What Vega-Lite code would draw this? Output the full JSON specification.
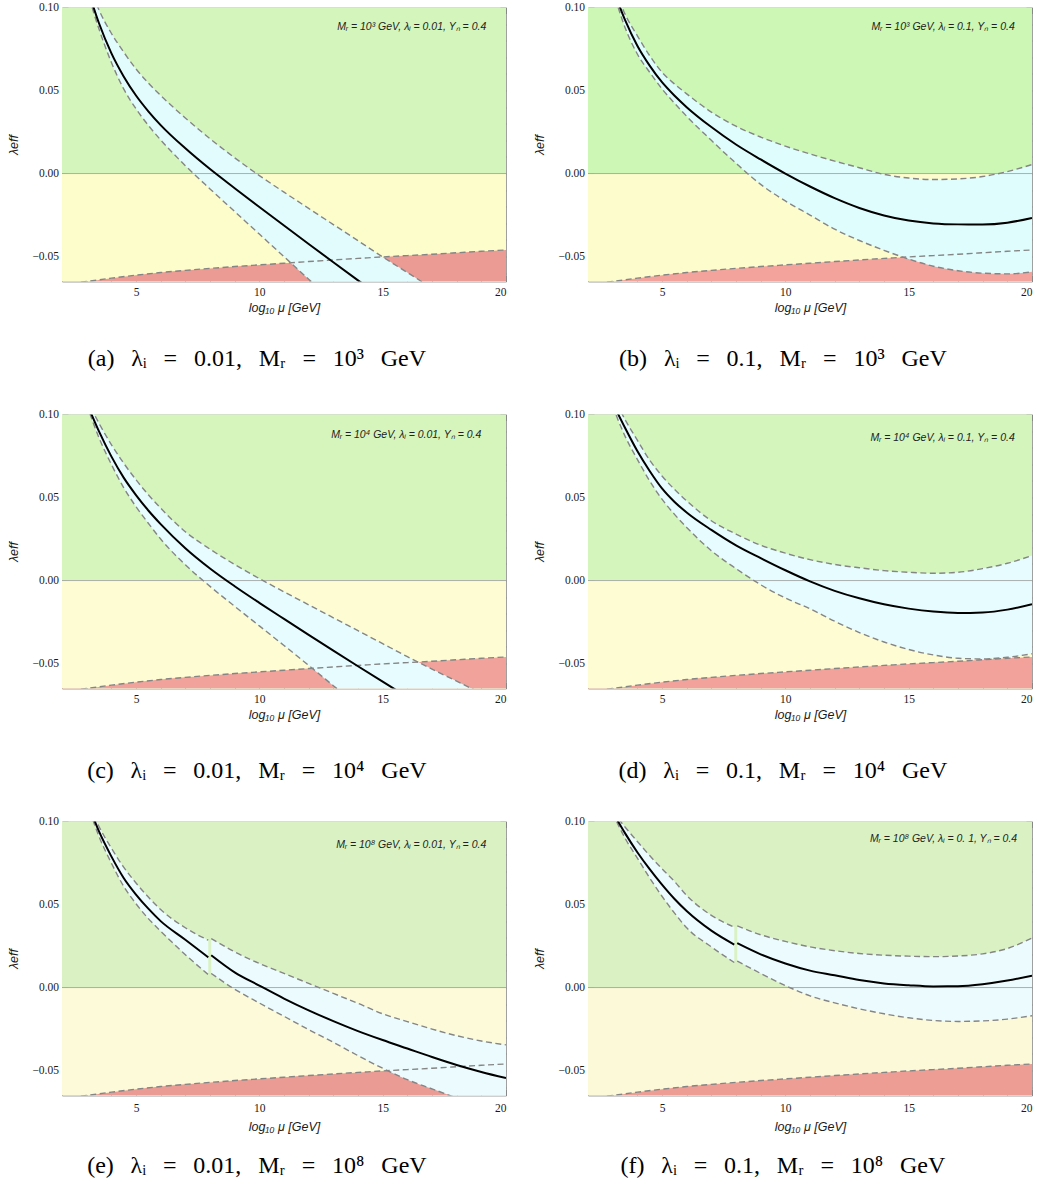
{
"$schema":"https://vega.github.io/schema/vega-lite/v6.json",
"background":"white",
"padding":{"left":6,"top":0.5,"right":4,"bottom":4},
"columns":2,
"spacing":{"row":133,"column":82},
"bounds":"flush",
"config":{"view":{"stroke":"#a0a0a0","strokeWidth":1},"axis":{"grid":false,"domain":false,"tickColor":"#808080","tickWidth":0.8,"labelFont":"Liberation Serif","labelFontSize":11.5,"labelColor":"#1a1a1a","titleFont":"Liberation Sans","titleFontStyle":"italic","titleFontWeight":"normal","titleFontSize":12.5,"titleColor":"#1a1a1a"}},
"datasets":{
"bound":[{"x":2,"b":-0.0668},{"x":3,"b":-0.065},{"x":4,"b":-0.063},{"x":5,"b":-0.0612},{"x":6,"b":-0.0596},{"x":7,"b":-0.0583},{"x":8,"b":-0.0571},{"x":9,"b":-0.056},{"x":10,"b":-0.055},{"x":11,"b":-0.054},{"x":12,"b":-0.053},{"x":13,"b":-0.052},{"x":14,"b":-0.0511},{"x":15,"b":-0.0502},{"x":16,"b":-0.0494},{"x":17,"b":-0.0486},{"x":18,"b":-0.0477},{"x":19,"b":-0.0468},{"x":20,"b":-0.046}],
"curves":[
{"p":"a","x":3,"lo":0.111,"mid":0.113,"hi":0.118},
{"p":"a","x":3.5,"lo":0.087,"mid":0.0905,"hi":0.0985},
{"p":"a","x":4,"lo":0.067,"mid":0.0725,"hi":0.0845},
{"p":"a","x":4.5,"lo":0.051,"mid":0.0585,"hi":0.0732},
{"p":"a","x":5,"lo":0.039,"mid":0.047,"hi":0.063},
{"p":"a","x":5.5,"lo":0.029,"mid":0.0375,"hi":0.0545},
{"p":"a","x":6,"lo":0.02025,"mid":0.0292,"hi":0.047},
{"p":"a","x":7,"lo":0.00475,"mid":0.0152,"hi":0.0335},
{"p":"a","x":8,"lo":-0.00925,"mid":0.0027,"hi":0.021},
{"p":"a","x":9,"lo":-0.02285,"mid":-0.0088,"hi":0.0095},
{"p":"a","x":10,"lo":-0.03645,"mid":-0.0201,"hi":-0.0012},
{"p":"a","x":11,"lo":-0.05005,"mid":-0.0313,"hi":-0.0112},
{"p":"a","x":12,"lo":-0.06365,"mid":-0.0424,"hi":-0.021},
{"p":"a","x":13,"lo":-0.0773,"mid":-0.0534,"hi":-0.0307},
{"p":"a","x":14,"lo":-0.0909,"mid":-0.0643,"hi":-0.0404},
{"p":"a","x":15,"lo":-0.1045,"mid":-0.075,"hi":-0.0502},
{"p":"a","x":16,"lo":-0.118,"mid":-0.0857,"hi":-0.0596},
{"p":"a","x":17,"lo":-0.1316,"mid":-0.0964,"hi":-0.069},
{"p":"b","x":3,"lo":0.111,"mid":0.112,"hi":0.115},
{"p":"b","x":3.5,"lo":0.088,"mid":0.0925,"hi":0.096},
{"p":"b","x":4,"lo":0.072,"mid":0.077,"hi":0.083},
{"p":"b","x":4.5,"lo":0.061,"mid":0.065,"hi":0.071},
{"p":"b","x":5,"lo":0.051,"mid":0.055,"hi":0.061},
{"p":"b","x":5.5,"lo":0.0425,"mid":0.047,"hi":0.054},
{"p":"b","x":6,"lo":0.0345,"mid":0.040,"hi":0.048},
{"p":"b","x":7,"lo":0.020,"mid":0.028,"hi":0.037},
{"p":"b","x":8,"lo":0.0062,"mid":0.0175,"hi":0.0285},
{"p":"b","x":9,"lo":-0.0065,"mid":0.0085,"hi":0.022},
{"p":"b","x":10,"lo":-0.0165,"mid":0.0,"hi":0.0165},
{"p":"b","x":11,"lo":-0.025,"mid":-0.0078,"hi":0.0118},
{"p":"b","x":12,"lo":-0.0335,"mid":-0.0148,"hi":0.0075},
{"p":"b","x":13,"lo":-0.0403,"mid":-0.0207,"hi":0.0035},
{"p":"b","x":14,"lo":-0.0462,"mid":-0.0252,"hi":-0.0005},
{"p":"b","x":15,"lo":-0.0515,"mid":-0.0283,"hi":-0.0027},
{"p":"b","x":16,"lo":-0.0558,"mid":-0.030,"hi":-0.0036},
{"p":"b","x":17,"lo":-0.0585,"mid":-0.0306,"hi":-0.0032},
{"p":"b","x":18,"lo":-0.060,"mid":-0.0307,"hi":-0.0018},
{"p":"b","x":19,"lo":-0.0604,"mid":-0.0296,"hi":0.0012},
{"p":"b","x":20,"lo":-0.0592,"mid":-0.0267,"hi":0.0054},
{"p":"c","x":3,"lo":0.106,"mid":0.107,"hi":0.1093},
{"p":"c","x":3.5,"lo":0.086,"mid":0.0898,"hi":0.0947},
{"p":"c","x":4,"lo":0.07,"mid":0.0748,"hi":0.0819},
{"p":"c","x":4.5,"lo":0.056,"mid":0.062,"hi":0.0707},
{"p":"c","x":5,"lo":0.0445,"mid":0.0515,"hi":0.0607},
{"p":"c","x":5.5,"lo":0.0345,"mid":0.0422,"hi":0.0517},
{"p":"c","x":6,"lo":0.025,"mid":0.034,"hi":0.0436},
{"p":"c","x":7,"lo":0.0095,"mid":0.0195,"hi":0.0294},
{"p":"c","x":8,"lo":-0.0035,"mid":0.0073,"hi":0.0189},
{"p":"c","x":9,"lo":-0.0155,"mid":-0.0034,"hi":0.0097},
{"p":"c","x":10,"lo":-0.0273,"mid":-0.0134,"hi":0.0012},
{"p":"c","x":11,"lo":-0.0391,"mid":-0.0231,"hi":-0.0068},
{"p":"c","x":12,"lo":-0.0511,"mid":-0.0327,"hi":-0.0146},
{"p":"c","x":13,"lo":-0.0633,"mid":-0.0422,"hi":-0.0224},
{"p":"c","x":14,"lo":-0.0755,"mid":-0.0516,"hi":-0.0302},
{"p":"c","x":15,"lo":-0.0877,"mid":-0.0609,"hi":-0.038},
{"p":"c","x":16,"lo":-0.1,"mid":-0.0701,"hi":-0.0458},
{"p":"c","x":17,"lo":-0.112,"mid":-0.0792,"hi":-0.0533},
{"p":"c","x":18,"lo":-0.124,"mid":-0.0882,"hi":-0.0606},
{"p":"c","x":19,"lo":-0.136,"mid":-0.0972,"hi":-0.0679},
{"p":"d","x":3,"lo":0.105,"mid":0.107,"hi":0.112},
{"p":"d","x":3.5,"lo":0.087,"mid":0.092,"hi":0.097},
{"p":"d","x":4,"lo":0.073,"mid":0.078,"hi":0.0845},
{"p":"d","x":4.5,"lo":0.060,"mid":0.066,"hi":0.0725},
{"p":"d","x":5,"lo":0.049,"mid":0.0555,"hi":0.063},
{"p":"d","x":5.5,"lo":0.040,"mid":0.0475,"hi":0.055},
{"p":"d","x":6,"lo":0.032,"mid":0.041,"hi":0.048},
{"p":"d","x":7,"lo":0.018,"mid":0.0305,"hi":0.036},
{"p":"d","x":8,"lo":0.0072,"mid":0.0212,"hi":0.028},
{"p":"d","x":9,"lo":-0.0025,"mid":0.0135,"hi":0.0213},
{"p":"d","x":10,"lo":-0.0105,"mid":0.0062,"hi":0.0165},
{"p":"d","x":11,"lo":-0.017,"mid":-0.0005,"hi":0.0126},
{"p":"d","x":12,"lo":-0.0245,"mid":-0.0062,"hi":0.0097},
{"p":"d","x":13,"lo":-0.0313,"mid":-0.0107,"hi":0.0077},
{"p":"d","x":14,"lo":-0.037,"mid":-0.0143,"hi":0.006},
{"p":"d","x":15,"lo":-0.0415,"mid":-0.0169,"hi":0.005},
{"p":"d","x":16,"lo":-0.0448,"mid":-0.0187,"hi":0.0044},
{"p":"d","x":17,"lo":-0.0468,"mid":-0.0195,"hi":0.005},
{"p":"d","x":18,"lo":-0.0472,"mid":-0.0192,"hi":0.0072},
{"p":"d","x":19,"lo":-0.0462,"mid":-0.0175,"hi":0.0104},
{"p":"d","x":20,"lo":-0.0441,"mid":-0.0142,"hi":0.0151},
{"p":"e","s":1,"x":3,"lo":0.112,"mid":0.113,"hi":0.114},
{"p":"e","s":1,"x":3.5,"lo":0.091,"mid":0.094,"hi":0.097},
{"p":"e","s":1,"x":4,"lo":0.075,"mid":0.079,"hi":0.084},
{"p":"e","s":1,"x":4.5,"lo":0.061,"mid":0.066,"hi":0.0725},
{"p":"e","s":1,"x":5,"lo":0.0505,"mid":0.056,"hi":0.063},
{"p":"e","s":1,"x":5.5,"lo":0.0415,"mid":0.0475,"hi":0.0545},
{"p":"e","s":1,"x":6,"lo":0.034,"mid":0.040,"hi":0.047},
{"p":"e","s":1,"x":7,"lo":0.0198,"mid":0.0288,"hi":0.036},
{"p":"e","s":1,"x":7.93,"lo":0.0078,"mid":0.0182,"hi":0.0285},
{"p":"e","s":2,"x":8.05,"lo":0.0085,"mid":0.0195,"hi":0.0295},
{"p":"e","s":2,"x":9,"lo":-0.001,"mid":0.0092,"hi":0.0215},
{"p":"e","s":2,"x":10,"lo":-0.0093,"mid":0.0012,"hi":0.0145},
{"p":"e","s":2,"x":11,"lo":-0.0173,"mid":-0.0066,"hi":0.0085},
{"p":"e","s":2,"x":12,"lo":-0.0253,"mid":-0.0137,"hi":0.0025},
{"p":"e","s":2,"x":13,"lo":-0.033,"mid":-0.0202,"hi":-0.0035},
{"p":"e","s":2,"x":14,"lo":-0.041,"mid":-0.0262,"hi":-0.0095},
{"p":"e","s":2,"x":15,"lo":-0.0486,"mid":-0.0316,"hi":-0.0158},
{"p":"e","s":2,"x":16,"lo":-0.0555,"mid":-0.0367,"hi":-0.0205},
{"p":"e","s":2,"x":17,"lo":-0.061,"mid":-0.0418,"hi":-0.025},
{"p":"e","s":2,"x":18,"lo":-0.0665,"mid":-0.0466,"hi":-0.029},
{"p":"e","s":2,"x":19,"lo":-0.072,"mid":-0.0508,"hi":-0.0322},
{"p":"e","s":2,"x":20,"lo":-0.0775,"mid":-0.0545,"hi":-0.0345},
{"p":"f","s":1,"x":3,"lo":0.105,"mid":0.1057,"hi":0.106},
{"p":"f","s":1,"x":3.5,"lo":0.09,"mid":0.093,"hi":0.0967},
{"p":"f","s":1,"x":4,"lo":0.078,"mid":0.0815,"hi":0.088},
{"p":"f","s":1,"x":4.5,"lo":0.066,"mid":0.0713,"hi":0.0795},
{"p":"f","s":1,"x":5,"lo":0.055,"mid":0.062,"hi":0.0715},
{"p":"f","s":1,"x":5.5,"lo":0.045,"mid":0.0535,"hi":0.064},
{"p":"f","s":1,"x":6,"lo":0.036,"mid":0.0461,"hi":0.0555},
{"p":"f","s":1,"x":7,"lo":0.0245,"mid":0.0343,"hi":0.0435},
{"p":"f","s":1,"x":7.93,"lo":0.0151,"mid":0.0259,"hi":0.0364},
{"p":"f","s":2,"x":8.05,"lo":0.016,"mid":0.0267,"hi":0.0372},
{"p":"f","s":2,"x":9,"lo":0.0085,"mid":0.020,"hi":0.0318},
{"p":"f","s":2,"x":10,"lo":0.0012,"mid":0.0145,"hi":0.0278},
{"p":"f","s":2,"x":11,"lo":-0.005,"mid":0.0102,"hi":0.0245},
{"p":"f","s":2,"x":12,"lo":-0.0092,"mid":0.0074,"hi":0.0222},
{"p":"f","s":2,"x":13,"lo":-0.0128,"mid":0.0045,"hi":0.0205},
{"p":"f","s":2,"x":14,"lo":-0.0158,"mid":0.0025,"hi":0.0195},
{"p":"f","s":2,"x":15,"lo":-0.0182,"mid":0.0014,"hi":0.0189},
{"p":"f","s":2,"x":16,"lo":-0.0198,"mid":0.0007,"hi":0.0186},
{"p":"f","s":2,"x":17,"lo":-0.0204,"mid":0.0008,"hi":0.019},
{"p":"f","s":2,"x":18,"lo":-0.0201,"mid":0.002,"hi":0.0203},
{"p":"f","s":2,"x":19,"lo":-0.019,"mid":0.0042,"hi":0.0235},
{"p":"f","s":2,"x":20,"lo":-0.017,"mid":0.0072,"hi":0.0298}
]},
"concat":[
{"width":444,"height":274,
"title":{"text":"(a)\u2002\u2009λᵢ\u2002\u2009=\u2002\u20090.01,\u2002\u2009Mᵣ\u2002\u2009=\u2002\u200910³\u2002\u2009GeV","orient":"bottom","offset":33,"font":"Liberation Serif","fontSize":24,"fontWeight":"normal","anchor":"middle","frame":"bounds","color":"#000"},
"resolve":{"axis":{"x":"independent","y":"independent"}},
"layer":[
{"data":{"values":[{}]},"mark":{"type":"rect","color":"#fdfdcb"},"encoding":{"x":{"datum":2,"type":"quantitative","scale":{"domain":[2,20],"nice":false,"zero":false},"axis":{"orient":"bottom","values":[5,10,15,20],"tickSize":-6,"labelPadding":10.5,"title":"log₁₀ μ  [GeV]","titlePadding":4}},"x2":{"datum":20},"y":{"datum":-0.065,"type":"quantitative","scale":{"domain":[-0.065,0.1],"nice":false,"zero":false},"axis":{"orient":"left","values":[-0.05,0,0.05,0.1],"format":".2f","tickSize":-6,"labelPadding":9.5,"title":"λeff","titlePadding":11.5}},"y2":{"datum":0}}},
{"data":{"name":"bound"},"mark":{"type":"area","color":"#eb9b94","clip":true,"interpolate":"monotone"},"encoding":{"x":{"field":"x","type":"quantitative","axis":{"orient":"bottom","values":[2,3,4,6,7,8,9,11,12,13,14,16,17,18,19],"tickSize":-3,"labels":false,"title":null}},"y":{"field":"b","type":"quantitative","axis":{"orient":"left","values":[-0.06,-0.04,-0.03,-0.02,-0.01,0.01,0.02,0.03,0.04,0.06,0.07,0.08,0.09],"tickSize":-3,"labels":false,"title":null}},"y2":{"datum":-0.065}}},
{"data":{"values":[{}]},"mark":{"type":"rect","color":"#d4f5bc"},"encoding":{"x":{"datum":2,"type":"quantitative","axis":{"orient":"top","values":[2,3,4,6,7,8,9,11,12,13,14,16,17,18,19],"tickSize":-3,"labels":false,"title":null}},"x2":{"datum":20},"y":{"datum":0,"type":"quantitative","axis":{"orient":"right","values":[-0.06,-0.04,-0.03,-0.02,-0.01,0.01,0.02,0.03,0.04,0.06,0.07,0.08,0.09],"tickSize":-3,"labels":false,"title":null}},"y2":{"datum":0.1}}},
{"data":{"name":"curves"},"transform":[{"filter":"datum.p==='a'"}],"mark":{"type":"area","color":"#e2fcfd","clip":true,"interpolate":"monotone"},"encoding":{"x":{"field":"x","type":"quantitative","axis":{"orient":"top","values":[5,10,15,20],"tickSize":-6,"labels":false,"title":null}},"y":{"field":"lo","type":"quantitative","axis":{"orient":"right","values":[-0.05,0,0.05,0.1],"tickSize":-6,"labels":false,"title":null}},"y2":{"field":"hi"},"detail":{"field":"s"}}},
{"data":{"values":[{}]},"mark":{"type":"rule","color":"#9a9a9a","strokeWidth":0.8},"encoding":{"y":{"datum":0,"type":"quantitative","axis":null}}},
{"data":{"name":"bound"},"mark":{"type":"line","color":"#858585","strokeWidth":1.4,"strokeDash":[6,3.5],"clip":true,"interpolate":"monotone"},"encoding":{"x":{"field":"x","type":"quantitative","axis":null},"y":{"field":"b","type":"quantitative","axis":null}}},
{"data":{"name":"curves"},"transform":[{"filter":"datum.p==='a'"}],"mark":{"type":"line","color":"#858585","strokeWidth":1.4,"strokeDash":[6,3.5],"clip":true,"interpolate":"monotone"},"encoding":{"x":{"field":"x","type":"quantitative","axis":null},"y":{"field":"lo","type":"quantitative","axis":null},"detail":{"field":"s"}}},
{"data":{"name":"curves"},"transform":[{"filter":"datum.p==='a'"}],"mark":{"type":"line","color":"#858585","strokeWidth":1.4,"strokeDash":[6,3.5],"clip":true,"interpolate":"monotone"},"encoding":{"x":{"field":"x","type":"quantitative","axis":null},"y":{"field":"hi","type":"quantitative","axis":null},"detail":{"field":"s"}}},
{"data":{"name":"curves"},"transform":[{"filter":"datum.p==='a'"}],"mark":{"type":"line","color":"#000000","strokeWidth":2,"clip":true,"interpolate":"monotone"},"encoding":{"x":{"field":"x","type":"quantitative","axis":null},"y":{"field":"mid","type":"quantitative","axis":null},"detail":{"field":"s"}}},
{"data":{"values":[{}]},"mark":{"type":"text","text":"Mᵣ = 10³ GeV,  λᵢ = 0.01,  Yₙ = 0.4","align":"right","baseline":"middle","font":"Liberation Sans","fontStyle":"italic","fontSize":10.5,"color":"#222"},"encoding":{"x":{"datum":19.2,"type":"quantitative","axis":null},"y":{"datum":0.0885,"type":"quantitative","axis":null}}}
]},
{"width":444,"height":274,
"title":{"text":"(b)\u2002\u2009λᵢ\u2002\u2009=\u2002\u20090.1,\u2002\u2009Mᵣ\u2002\u2009=\u2002\u200910³\u2002\u2009GeV","orient":"bottom","offset":33,"font":"Liberation Serif","fontSize":24,"fontWeight":"normal","anchor":"middle","frame":"bounds","color":"#000"},
"resolve":{"axis":{"x":"independent","y":"independent"}},
"layer":[
{"data":{"values":[{}]},"mark":{"type":"rect","color":"#fdfccc"},"encoding":{"x":{"datum":2,"type":"quantitative","scale":{"domain":[2,20],"nice":false,"zero":false},"axis":{"orient":"bottom","values":[5,10,15,20],"tickSize":-6,"labelPadding":10.5,"title":"log₁₀ μ  [GeV]","titlePadding":4}},"x2":{"datum":20},"y":{"datum":-0.065,"type":"quantitative","scale":{"domain":[-0.065,0.1],"nice":false,"zero":false},"axis":{"orient":"left","values":[-0.05,0,0.05,0.1],"format":".2f","tickSize":-6,"labelPadding":9.5,"title":"λeff","titlePadding":11.5}},"y2":{"datum":0}}},
{"data":{"name":"bound"},"mark":{"type":"area","color":"#f4a39c","clip":true,"interpolate":"monotone"},"encoding":{"x":{"field":"x","type":"quantitative","axis":{"orient":"bottom","values":[2,3,4,6,7,8,9,11,12,13,14,16,17,18,19],"tickSize":-3,"labels":false,"title":null}},"y":{"field":"b","type":"quantitative","axis":{"orient":"left","values":[-0.06,-0.04,-0.03,-0.02,-0.01,0.01,0.02,0.03,0.04,0.06,0.07,0.08,0.09],"tickSize":-3,"labels":false,"title":null}},"y2":{"datum":-0.065}}},
{"data":{"values":[{}]},"mark":{"type":"rect","color":"#ccf7b4"},"encoding":{"x":{"datum":2,"type":"quantitative","axis":{"orient":"top","values":[2,3,4,6,7,8,9,11,12,13,14,16,17,18,19],"tickSize":-3,"labels":false,"title":null}},"x2":{"datum":20},"y":{"datum":0,"type":"quantitative","axis":{"orient":"right","values":[-0.06,-0.04,-0.03,-0.02,-0.01,0.01,0.02,0.03,0.04,0.06,0.07,0.08,0.09],"tickSize":-3,"labels":false,"title":null}},"y2":{"datum":0.1}}},
{"data":{"name":"curves"},"transform":[{"filter":"datum.p==='b'"}],"mark":{"type":"area","color":"#e0fdfe","clip":true,"interpolate":"monotone"},"encoding":{"x":{"field":"x","type":"quantitative","axis":{"orient":"top","values":[5,10,15,20],"tickSize":-6,"labels":false,"title":null}},"y":{"field":"lo","type":"quantitative","axis":{"orient":"right","values":[-0.05,0,0.05,0.1],"tickSize":-6,"labels":false,"title":null}},"y2":{"field":"hi"},"detail":{"field":"s"}}},
{"data":{"values":[{}]},"mark":{"type":"rule","color":"#9a9a9a","strokeWidth":0.8},"encoding":{"y":{"datum":0,"type":"quantitative","axis":null}}},
{"data":{"name":"bound"},"mark":{"type":"line","color":"#858585","strokeWidth":1.4,"strokeDash":[6,3.5],"clip":true,"interpolate":"monotone"},"encoding":{"x":{"field":"x","type":"quantitative","axis":null},"y":{"field":"b","type":"quantitative","axis":null}}},
{"data":{"name":"curves"},"transform":[{"filter":"datum.p==='b'"}],"mark":{"type":"line","color":"#858585","strokeWidth":1.4,"strokeDash":[6,3.5],"clip":true,"interpolate":"monotone"},"encoding":{"x":{"field":"x","type":"quantitative","axis":null},"y":{"field":"lo","type":"quantitative","axis":null},"detail":{"field":"s"}}},
{"data":{"name":"curves"},"transform":[{"filter":"datum.p==='b'"}],"mark":{"type":"line","color":"#858585","strokeWidth":1.4,"strokeDash":[6,3.5],"clip":true,"interpolate":"monotone"},"encoding":{"x":{"field":"x","type":"quantitative","axis":null},"y":{"field":"hi","type":"quantitative","axis":null},"detail":{"field":"s"}}},
{"data":{"name":"curves"},"transform":[{"filter":"datum.p==='b'"}],"mark":{"type":"line","color":"#000000","strokeWidth":2,"clip":true,"interpolate":"monotone"},"encoding":{"x":{"field":"x","type":"quantitative","axis":null},"y":{"field":"mid","type":"quantitative","axis":null},"detail":{"field":"s"}}},
{"data":{"values":[{}]},"mark":{"type":"text","text":"Mᵣ = 10³ GeV,  λᵢ = 0.1,  Yₙ = 0.4","align":"right","baseline":"middle","font":"Liberation Sans","fontStyle":"italic","fontSize":10.5,"color":"#222"},"encoding":{"x":{"datum":19.3,"type":"quantitative","axis":null},"y":{"datum":0.088,"type":"quantitative","axis":null}}}
]},
{"width":444,"height":274,
"title":{"text":"(c)\u2002\u2009λᵢ\u2002\u2009=\u2002\u20090.01,\u2002\u2009Mᵣ\u2002\u2009=\u2002\u200910⁴\u2002\u2009GeV","orient":"bottom","offset":37.5,"font":"Liberation Serif","fontSize":24,"fontWeight":"normal","anchor":"middle","frame":"bounds","color":"#000"},
"resolve":{"axis":{"x":"independent","y":"independent"}},
"layer":[
{"data":{"values":[{}]},"mark":{"type":"rect","color":"#fdfcd2"},"encoding":{"x":{"datum":2,"type":"quantitative","scale":{"domain":[2,20],"nice":false,"zero":false},"axis":{"orient":"bottom","values":[5,10,15,20],"tickSize":-6,"labelPadding":10.5,"title":"log₁₀ μ  [GeV]","titlePadding":4}},"x2":{"datum":20},"y":{"datum":-0.065,"type":"quantitative","scale":{"domain":[-0.065,0.1],"nice":false,"zero":false},"axis":{"orient":"left","values":[-0.05,0,0.05,0.1],"format":".2f","tickSize":-6,"labelPadding":9.5,"title":"λeff","titlePadding":11.5}},"y2":{"datum":0}}},
{"data":{"name":"bound"},"mark":{"type":"area","color":"#f1a29a","clip":true,"interpolate":"monotone"},"encoding":{"x":{"field":"x","type":"quantitative","axis":{"orient":"bottom","values":[2,3,4,6,7,8,9,11,12,13,14,16,17,18,19],"tickSize":-3,"labels":false,"title":null}},"y":{"field":"b","type":"quantitative","axis":{"orient":"left","values":[-0.06,-0.04,-0.03,-0.02,-0.01,0.01,0.02,0.03,0.04,0.06,0.07,0.08,0.09],"tickSize":-3,"labels":false,"title":null}},"y2":{"datum":-0.065}}},
{"data":{"values":[{}]},"mark":{"type":"rect","color":"#d5f5bd"},"encoding":{"x":{"datum":2,"type":"quantitative","axis":{"orient":"top","values":[2,3,4,6,7,8,9,11,12,13,14,16,17,18,19],"tickSize":-3,"labels":false,"title":null}},"x2":{"datum":20},"y":{"datum":0,"type":"quantitative","axis":{"orient":"right","values":[-0.06,-0.04,-0.03,-0.02,-0.01,0.01,0.02,0.03,0.04,0.06,0.07,0.08,0.09],"tickSize":-3,"labels":false,"title":null}},"y2":{"datum":0.1}}},
{"data":{"name":"curves"},"transform":[{"filter":"datum.p==='c'"}],"mark":{"type":"area","color":"#e6fcfe","clip":true,"interpolate":"monotone"},"encoding":{"x":{"field":"x","type":"quantitative","axis":{"orient":"top","values":[5,10,15,20],"tickSize":-6,"labels":false,"title":null}},"y":{"field":"lo","type":"quantitative","axis":{"orient":"right","values":[-0.05,0,0.05,0.1],"tickSize":-6,"labels":false,"title":null}},"y2":{"field":"hi"},"detail":{"field":"s"}}},
{"data":{"values":[{}]},"mark":{"type":"rule","color":"#9a9a9a","strokeWidth":0.8},"encoding":{"y":{"datum":0,"type":"quantitative","axis":null}}},
{"data":{"name":"bound"},"mark":{"type":"line","color":"#858585","strokeWidth":1.4,"strokeDash":[6,3.5],"clip":true,"interpolate":"monotone"},"encoding":{"x":{"field":"x","type":"quantitative","axis":null},"y":{"field":"b","type":"quantitative","axis":null}}},
{"data":{"name":"curves"},"transform":[{"filter":"datum.p==='c'"}],"mark":{"type":"line","color":"#858585","strokeWidth":1.4,"strokeDash":[6,3.5],"clip":true,"interpolate":"monotone"},"encoding":{"x":{"field":"x","type":"quantitative","axis":null},"y":{"field":"lo","type":"quantitative","axis":null},"detail":{"field":"s"}}},
{"data":{"name":"curves"},"transform":[{"filter":"datum.p==='c'"}],"mark":{"type":"line","color":"#858585","strokeWidth":1.4,"strokeDash":[6,3.5],"clip":true,"interpolate":"monotone"},"encoding":{"x":{"field":"x","type":"quantitative","axis":null},"y":{"field":"hi","type":"quantitative","axis":null},"detail":{"field":"s"}}},
{"data":{"name":"curves"},"transform":[{"filter":"datum.p==='c'"}],"mark":{"type":"line","color":"#000000","strokeWidth":2,"clip":true,"interpolate":"monotone"},"encoding":{"x":{"field":"x","type":"quantitative","axis":null},"y":{"field":"mid","type":"quantitative","axis":null},"detail":{"field":"s"}}},
{"data":{"values":[{}]},"mark":{"type":"text","text":"Mᵣ = 10⁴ GeV,  λᵢ = 0.01,  Yₙ = 0.4","align":"right","baseline":"middle","font":"Liberation Sans","fontStyle":"italic","fontSize":10.5,"color":"#222"},"encoding":{"x":{"datum":19.0,"type":"quantitative","axis":null},"y":{"datum":0.0875,"type":"quantitative","axis":null}}}
]},
{"width":444,"height":274,
"title":{"text":"(d)\u2002\u2009λᵢ\u2002\u2009=\u2002\u20090.1,\u2002\u2009Mᵣ\u2002\u2009=\u2002\u200910⁴\u2002\u2009GeV","orient":"bottom","offset":37.5,"font":"Liberation Serif","fontSize":24,"fontWeight":"normal","anchor":"middle","frame":"bounds","color":"#000"},
"resolve":{"axis":{"x":"independent","y":"independent"}},
"layer":[
{"data":{"values":[{}]},"mark":{"type":"rect","color":"#fdfcd2"},"encoding":{"x":{"datum":2,"type":"quantitative","scale":{"domain":[2,20],"nice":false,"zero":false},"axis":{"orient":"bottom","values":[5,10,15,20],"tickSize":-6,"labelPadding":10.5,"title":"log₁₀ μ  [GeV]","titlePadding":4}},"x2":{"datum":20},"y":{"datum":-0.065,"type":"quantitative","scale":{"domain":[-0.065,0.1],"nice":false,"zero":false},"axis":{"orient":"left","values":[-0.05,0,0.05,0.1],"format":".2f","tickSize":-6,"labelPadding":9.5,"title":"λeff","titlePadding":11.5}},"y2":{"datum":0}}},
{"data":{"name":"bound"},"mark":{"type":"area","color":"#f3a29b","clip":true,"interpolate":"monotone"},"encoding":{"x":{"field":"x","type":"quantitative","axis":{"orient":"bottom","values":[2,3,4,6,7,8,9,11,12,13,14,16,17,18,19],"tickSize":-3,"labels":false,"title":null}},"y":{"field":"b","type":"quantitative","axis":{"orient":"left","values":[-0.06,-0.04,-0.03,-0.02,-0.01,0.01,0.02,0.03,0.04,0.06,0.07,0.08,0.09],"tickSize":-3,"labels":false,"title":null}},"y2":{"datum":-0.065}}},
{"data":{"values":[{}]},"mark":{"type":"rect","color":"#d4f5bc"},"encoding":{"x":{"datum":2,"type":"quantitative","axis":{"orient":"top","values":[2,3,4,6,7,8,9,11,12,13,14,16,17,18,19],"tickSize":-3,"labels":false,"title":null}},"x2":{"datum":20},"y":{"datum":0,"type":"quantitative","axis":{"orient":"right","values":[-0.06,-0.04,-0.03,-0.02,-0.01,0.01,0.02,0.03,0.04,0.06,0.07,0.08,0.09],"tickSize":-3,"labels":false,"title":null}},"y2":{"datum":0.1}}},
{"data":{"name":"curves"},"transform":[{"filter":"datum.p==='d'"}],"mark":{"type":"area","color":"#e6fcfe","clip":true,"interpolate":"monotone"},"encoding":{"x":{"field":"x","type":"quantitative","axis":{"orient":"top","values":[5,10,15,20],"tickSize":-6,"labels":false,"title":null}},"y":{"field":"lo","type":"quantitative","axis":{"orient":"right","values":[-0.05,0,0.05,0.1],"tickSize":-6,"labels":false,"title":null}},"y2":{"field":"hi"},"detail":{"field":"s"}}},
{"data":{"values":[{}]},"mark":{"type":"rule","color":"#9a9a9a","strokeWidth":0.8},"encoding":{"y":{"datum":0,"type":"quantitative","axis":null}}},
{"data":{"name":"bound"},"mark":{"type":"line","color":"#858585","strokeWidth":1.4,"strokeDash":[6,3.5],"clip":true,"interpolate":"monotone"},"encoding":{"x":{"field":"x","type":"quantitative","axis":null},"y":{"field":"b","type":"quantitative","axis":null}}},
{"data":{"name":"curves"},"transform":[{"filter":"datum.p==='d'"}],"mark":{"type":"line","color":"#858585","strokeWidth":1.4,"strokeDash":[6,3.5],"clip":true,"interpolate":"monotone"},"encoding":{"x":{"field":"x","type":"quantitative","axis":null},"y":{"field":"lo","type":"quantitative","axis":null},"detail":{"field":"s"}}},
{"data":{"name":"curves"},"transform":[{"filter":"datum.p==='d'"}],"mark":{"type":"line","color":"#858585","strokeWidth":1.4,"strokeDash":[6,3.5],"clip":true,"interpolate":"monotone"},"encoding":{"x":{"field":"x","type":"quantitative","axis":null},"y":{"field":"hi","type":"quantitative","axis":null},"detail":{"field":"s"}}},
{"data":{"name":"curves"},"transform":[{"filter":"datum.p==='d'"}],"mark":{"type":"line","color":"#000000","strokeWidth":2,"clip":true,"interpolate":"monotone"},"encoding":{"x":{"field":"x","type":"quantitative","axis":null},"y":{"field":"mid","type":"quantitative","axis":null},"detail":{"field":"s"}}},
{"data":{"values":[{}]},"mark":{"type":"text","text":"Mᵣ = 10⁴ GeV,  λᵢ = 0.1,  Yₙ = 0.4","align":"right","baseline":"middle","font":"Liberation Sans","fontStyle":"italic","fontSize":10.5,"color":"#222"},"encoding":{"x":{"datum":19.3,"type":"quantitative","axis":null},"y":{"datum":0.0858,"type":"quantitative","axis":null}}}
]},
{"width":444,"height":274,
"title":{"text":"(e)\u2002\u2009λᵢ\u2002\u2009=\u2002\u20090.01,\u2002\u2009Mᵣ\u2002\u2009=\u2002\u200910⁸\u2002\u2009GeV","orient":"bottom","offset":21,"font":"Liberation Serif","fontSize":24,"fontWeight":"normal","anchor":"middle","frame":"bounds","color":"#000"},
"resolve":{"axis":{"x":"independent","y":"independent"}},
"layer":[
{"data":{"values":[{}]},"mark":{"type":"rect","color":"#fcfad8"},"encoding":{"x":{"datum":2,"type":"quantitative","scale":{"domain":[2,20],"nice":false,"zero":false},"axis":{"orient":"bottom","values":[5,10,15,20],"tickSize":-6,"labelPadding":12.5,"title":"log₁₀ μ  [GeV]","titlePadding":7}},"x2":{"datum":20},"y":{"datum":-0.065,"type":"quantitative","scale":{"domain":[-0.065,0.1],"nice":false,"zero":false},"axis":{"orient":"left","values":[-0.05,0,0.05,0.1],"format":".2f","tickSize":-6,"labelPadding":9.5,"title":"λeff","titlePadding":11.5}},"y2":{"datum":0}}},
{"data":{"name":"bound"},"mark":{"type":"area","color":"#e99b94","clip":true,"interpolate":"monotone"},"encoding":{"x":{"field":"x","type":"quantitative","axis":{"orient":"bottom","values":[2,3,4,6,7,8,9,11,12,13,14,16,17,18,19],"tickSize":-3,"labels":false,"title":null}},"y":{"field":"b","type":"quantitative","axis":{"orient":"left","values":[-0.06,-0.04,-0.03,-0.02,-0.01,0.01,0.02,0.03,0.04,0.06,0.07,0.08,0.09],"tickSize":-3,"labels":false,"title":null}},"y2":{"datum":-0.065}}},
{"data":{"values":[{}]},"mark":{"type":"rect","color":"#daf2c3"},"encoding":{"x":{"datum":2,"type":"quantitative","axis":{"orient":"top","values":[2,3,4,6,7,8,9,11,12,13,14,16,17,18,19],"tickSize":-3,"labels":false,"title":null}},"x2":{"datum":20},"y":{"datum":0,"type":"quantitative","axis":{"orient":"right","values":[-0.06,-0.04,-0.03,-0.02,-0.01,0.01,0.02,0.03,0.04,0.06,0.07,0.08,0.09],"tickSize":-3,"labels":false,"title":null}},"y2":{"datum":0.1}}},
{"data":{"name":"curves"},"transform":[{"filter":"datum.p==='e'"}],"mark":{"type":"area","color":"#ebfbfe","clip":true,"interpolate":"monotone"},"encoding":{"x":{"field":"x","type":"quantitative","axis":{"orient":"top","values":[5,10,15,20],"tickSize":-6,"labels":false,"title":null}},"y":{"field":"lo","type":"quantitative","axis":{"orient":"right","values":[-0.05,0,0.05,0.1],"tickSize":-6,"labels":false,"title":null}},"y2":{"field":"hi"},"detail":{"field":"s"}}},
{"data":{"values":[{}]},"mark":{"type":"rule","color":"#9a9a9a","strokeWidth":0.8},"encoding":{"y":{"datum":0,"type":"quantitative","axis":null}}},
{"data":{"name":"bound"},"mark":{"type":"line","color":"#858585","strokeWidth":1.4,"strokeDash":[6,3.5],"clip":true,"interpolate":"monotone"},"encoding":{"x":{"field":"x","type":"quantitative","axis":null},"y":{"field":"b","type":"quantitative","axis":null}}},
{"data":{"name":"curves"},"transform":[{"filter":"datum.p==='e'"}],"mark":{"type":"line","color":"#858585","strokeWidth":1.4,"strokeDash":[6,3.5],"clip":true,"interpolate":"monotone"},"encoding":{"x":{"field":"x","type":"quantitative","axis":null},"y":{"field":"lo","type":"quantitative","axis":null},"detail":{"field":"s"}}},
{"data":{"name":"curves"},"transform":[{"filter":"datum.p==='e'"}],"mark":{"type":"line","color":"#858585","strokeWidth":1.4,"strokeDash":[6,3.5],"clip":true,"interpolate":"monotone"},"encoding":{"x":{"field":"x","type":"quantitative","axis":null},"y":{"field":"hi","type":"quantitative","axis":null},"detail":{"field":"s"}}},
{"data":{"name":"curves"},"transform":[{"filter":"datum.p==='e'"}],"mark":{"type":"line","color":"#000000","strokeWidth":2,"clip":true,"interpolate":"monotone"},"encoding":{"x":{"field":"x","type":"quantitative","axis":null},"y":{"field":"mid","type":"quantitative","axis":null},"detail":{"field":"s"}}},
{"data":{"values":[{}]},"mark":{"type":"text","text":"Mᵣ = 10⁸ GeV,  λᵢ = 0.01,  Yₙ = 0.4","align":"right","baseline":"middle","font":"Liberation Sans","fontStyle":"italic","fontSize":10.5,"color":"#222"},"encoding":{"x":{"datum":19.2,"type":"quantitative","axis":null},"y":{"datum":0.086,"type":"quantitative","axis":null}}}
]},
{"width":444,"height":274,
"title":{"text":"(f)\u2002\u2009λᵢ\u2002\u2009=\u2002\u20090.1,\u2002\u2009Mᵣ\u2002\u2009=\u2002\u200910⁸\u2002\u2009GeV","orient":"bottom","offset":21,"font":"Liberation Serif","fontSize":24,"fontWeight":"normal","anchor":"middle","frame":"bounds","color":"#000"},
"resolve":{"axis":{"x":"independent","y":"independent"}},
"layer":[
{"data":{"values":[{}]},"mark":{"type":"rect","color":"#fcf9d9"},"encoding":{"x":{"datum":2,"type":"quantitative","scale":{"domain":[2,20],"nice":false,"zero":false},"axis":{"orient":"bottom","values":[5,10,15,20],"tickSize":-6,"labelPadding":12.5,"title":"log₁₀ μ  [GeV]","titlePadding":7}},"x2":{"datum":20},"y":{"datum":-0.065,"type":"quantitative","scale":{"domain":[-0.065,0.1],"nice":false,"zero":false},"axis":{"orient":"left","values":[-0.05,0,0.05,0.1],"format":".2f","tickSize":-6,"labelPadding":9.5,"title":"λeff","titlePadding":11.5}},"y2":{"datum":0}}},
{"data":{"name":"bound"},"mark":{"type":"area","color":"#ee9d95","clip":true,"interpolate":"monotone"},"encoding":{"x":{"field":"x","type":"quantitative","axis":{"orient":"bottom","values":[2,3,4,6,7,8,9,11,12,13,14,16,17,18,19],"tickSize":-3,"labels":false,"title":null}},"y":{"field":"b","type":"quantitative","axis":{"orient":"left","values":[-0.06,-0.04,-0.03,-0.02,-0.01,0.01,0.02,0.03,0.04,0.06,0.07,0.08,0.09],"tickSize":-3,"labels":false,"title":null}},"y2":{"datum":-0.065}}},
{"data":{"values":[{}]},"mark":{"type":"rect","color":"#daf2c3"},"encoding":{"x":{"datum":2,"type":"quantitative","axis":{"orient":"top","values":[2,3,4,6,7,8,9,11,12,13,14,16,17,18,19],"tickSize":-3,"labels":false,"title":null}},"x2":{"datum":20},"y":{"datum":0,"type":"quantitative","axis":{"orient":"right","values":[-0.06,-0.04,-0.03,-0.02,-0.01,0.01,0.02,0.03,0.04,0.06,0.07,0.08,0.09],"tickSize":-3,"labels":false,"title":null}},"y2":{"datum":0.1}}},
{"data":{"name":"curves"},"transform":[{"filter":"datum.p==='f'"}],"mark":{"type":"area","color":"#ebfbfe","clip":true,"interpolate":"monotone"},"encoding":{"x":{"field":"x","type":"quantitative","axis":{"orient":"top","values":[5,10,15,20],"tickSize":-6,"labels":false,"title":null}},"y":{"field":"lo","type":"quantitative","axis":{"orient":"right","values":[-0.05,0,0.05,0.1],"tickSize":-6,"labels":false,"title":null}},"y2":{"field":"hi"},"detail":{"field":"s"}}},
{"data":{"values":[{}]},"mark":{"type":"rule","color":"#9a9a9a","strokeWidth":0.8},"encoding":{"y":{"datum":0,"type":"quantitative","axis":null}}},
{"data":{"name":"bound"},"mark":{"type":"line","color":"#858585","strokeWidth":1.4,"strokeDash":[6,3.5],"clip":true,"interpolate":"monotone"},"encoding":{"x":{"field":"x","type":"quantitative","axis":null},"y":{"field":"b","type":"quantitative","axis":null}}},
{"data":{"name":"curves"},"transform":[{"filter":"datum.p==='f'"}],"mark":{"type":"line","color":"#858585","strokeWidth":1.4,"strokeDash":[6,3.5],"clip":true,"interpolate":"monotone"},"encoding":{"x":{"field":"x","type":"quantitative","axis":null},"y":{"field":"lo","type":"quantitative","axis":null},"detail":{"field":"s"}}},
{"data":{"name":"curves"},"transform":[{"filter":"datum.p==='f'"}],"mark":{"type":"line","color":"#858585","strokeWidth":1.4,"strokeDash":[6,3.5],"clip":true,"interpolate":"monotone"},"encoding":{"x":{"field":"x","type":"quantitative","axis":null},"y":{"field":"hi","type":"quantitative","axis":null},"detail":{"field":"s"}}},
{"data":{"name":"curves"},"transform":[{"filter":"datum.p==='f'"}],"mark":{"type":"line","color":"#000000","strokeWidth":2,"clip":true,"interpolate":"monotone"},"encoding":{"x":{"field":"x","type":"quantitative","axis":null},"y":{"field":"mid","type":"quantitative","axis":null},"detail":{"field":"s"}}},
{"data":{"values":[{}]},"mark":{"type":"text","text":"Mᵣ = 10⁸ GeV,  λᵢ = 0. 1,  Yₙ = 0.4","align":"right","baseline":"middle","font":"Liberation Sans","fontStyle":"italic","fontSize":10.5,"color":"#222"},"encoding":{"x":{"datum":19.4,"type":"quantitative","axis":null},"y":{"datum":0.0895,"type":"quantitative","axis":null}}}
]}
]
}
